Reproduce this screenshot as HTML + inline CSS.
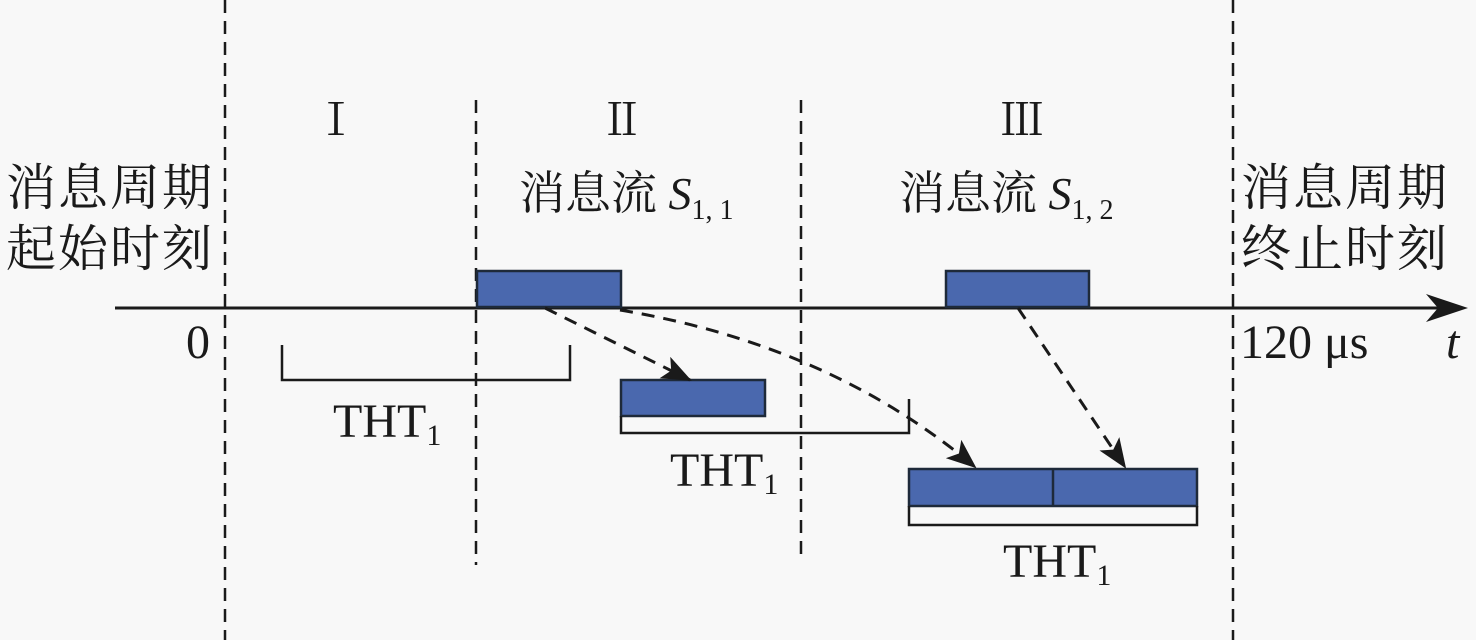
<!DOCTYPE html>
<html><head><meta charset="utf-8"><style>
html,body{margin:0;padding:0;background:#f8f8f8;}
svg{display:block;}
text{font-family:"Liberation Serif","Noto Serif CJK SC",serif;fill:#1a1a1a;}
.cjk{font-family:"Liberation Serif","Noto Serif CJK SC",serif;}
</style></head><body>
<svg width="1476" height="640" viewBox="0 0 1476 640" xmlns="http://www.w3.org/2000/svg">
<defs>
<marker id="ah" markerWidth="30" markerHeight="24" refX="28" refY="12" orient="auto" markerUnits="userSpaceOnUse" viewBox="0 0 30 24">
<path d="M0,0 L30,12 L0,24 L7,12 Z" fill="#1a1a1a"/></marker>
</defs>
<rect width="1476" height="640" fill="#f8f8f8"/>
<g stroke="#1a1a1a" stroke-width="2.5" stroke-dasharray="13,8" fill="none">
<line x1="225" y1="0" x2="225" y2="640"/>
<line x1="1233" y1="0" x2="1233" y2="640"/>
<line x1="476" y1="100" x2="476" y2="565"/>
<line x1="801" y1="100" x2="801" y2="560"/>
</g>
<line x1="115" y1="308" x2="1440" y2="308" stroke="#1a1a1a" stroke-width="3"/>
<path d="M1426,294 L1468,308 L1426,322 L1438,308 Z" fill="#1a1a1a"/>
<g fill="#4a68ae" stroke="#1e2a3a" stroke-width="2.5">
<rect x="477" y="271" width="144" height="36"/>
<rect x="946" y="271" width="143" height="36"/>
<rect x="621" y="380" width="144" height="36"/>
<rect x="909" y="469" width="288" height="37"/>
<line x1="1053" y1="469" x2="1053" y2="506"/>
</g>
<g stroke="#1a1a1a" stroke-width="2.5" fill="none">
<path d="M282,345 L282,380 L570,380 L570,345"/>
<path d="M621,416 L621,433 L909,433 L909,399"/>
<path d="M909,506 L909,525 L1197,525 L1197,506"/>
</g>
<g stroke="#1a1a1a" stroke-width="3" fill="none" stroke-dasharray="13,9" marker-end="url(#ah)">
<line x1="545" y1="308" x2="690" y2="380"/>
<path d="M620,310 Q830,345 975,467"/>
<line x1="1018" y1="308" x2="1125" y2="467"/>
</g>
<text x="336" y="135" font-size="44" text-anchor="middle">Ⅰ</text>
<text x="622" y="135" font-size="44" text-anchor="middle">Ⅱ</text>
<text x="1022" y="135" font-size="44" text-anchor="middle">Ⅲ</text>
<text class="cjk" x="6" y="205" font-size="50" textLength="206">消息周期</text>
<text class="cjk" x="6" y="266" font-size="50" textLength="206">起始时刻</text>
<text class="cjk" x="1241" y="205" font-size="50" textLength="206">消息周期</text>
<text class="cjk" x="1241" y="266" font-size="50" textLength="206">终止时刻</text>
<text class="cjk" x="519" y="209" font-size="46">消息流 <tspan font-style="italic" font-family="Liberation Serif">S</tspan><tspan font-size="28" dy="10">1, 1</tspan></text>
<text class="cjk" x="899" y="209" font-size="46">消息流 <tspan font-style="italic" font-family="Liberation Serif">S</tspan><tspan font-size="28" dy="10">1, 2</tspan></text>
<text x="186" y="358" font-size="48">0</text>
<text x="1240" y="358" font-size="48">120 μs</text>
<text x="1446" y="358" font-size="48" font-style="italic">t</text>
<text x="333" y="437" font-size="48">THT<tspan font-size="30" dy="8">1</tspan></text>
<text x="670" y="486" font-size="48">THT<tspan font-size="30" dy="8">1</tspan></text>
<text x="1003" y="577" font-size="48">THT<tspan font-size="30" dy="8">1</tspan></text>
</svg>
</body></html>
